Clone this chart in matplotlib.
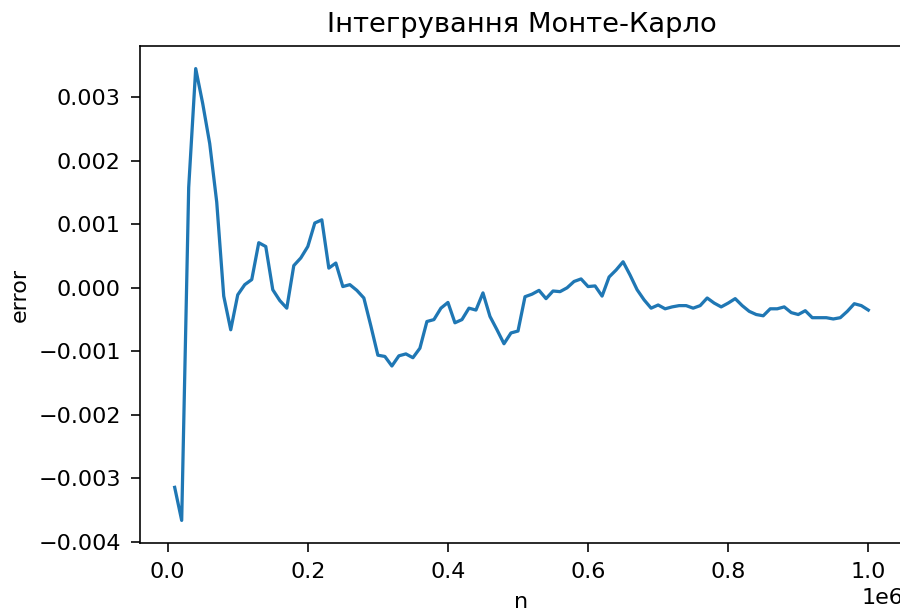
import numpy as np
import matplotlib
matplotlib.use("Agg")
import matplotlib.pyplot as plt

# Sample sizes used for the Monte Carlo estimate
n_values = np.arange(10000, 1000001, 10000)

# Integration error for each sample size
error = [
    -0.00314, -0.00366, 0.00158, 0.00345, 0.00290, 0.00227, 0.00135, -0.00013, -0.00066, -0.00011,
    0.00005, 0.00013, 0.00071, 0.00065, -0.00003, -0.00020, -0.00032, 0.00035, 0.00047, 0.00065,
    0.00102, 0.00107, 0.00031, 0.00039, 0.00002, 0.00005, -0.00004, -0.00016, -0.00060, -0.00106,
    -0.00108, -0.00123, -0.00107, -0.00104, -0.00110, -0.00095, -0.00053, -0.00050, -0.00032, -0.00023,
    -0.00055, -0.00050, -0.00032, -0.00035, -0.00008, -0.00045, -0.00066, -0.00088, -0.00071, -0.00068,
    -0.00014, -0.00010, -0.00004, -0.00017, -0.00005, -0.00006, 0.00000, 0.00010, 0.00014, 0.00002,
    0.00003, -0.00013, 0.00017, 0.00028, 0.00041, 0.00020, -0.00003, -0.00019, -0.00032, -0.00027,
    -0.00033, -0.00030, -0.00028, -0.00028, -0.00032, -0.00028, -0.00016, -0.00024, -0.00030, -0.00024,
    -0.00017, -0.00028, -0.00037, -0.00042, -0.00044, -0.00033, -0.00033, -0.00030, -0.00039, -0.00042,
    -0.00036, -0.00047, -0.00047, -0.00047, -0.00049, -0.00047, -0.00037, -0.00025, -0.00028, -0.00035,
]

dpi = 146
plt.rcParams.update({
    "font.size": 11,
    "axes.titlesize": 13.5,
    "axes.labelsize": 11,
    "xtick.labelsize": 11,
    "ytick.labelsize": 11,
    "xtick.major.size": 4.5,
    "ytick.major.size": 4.5,
    "xtick.major.pad": 5,
    "ytick.major.pad": 5,
})

fig = plt.figure(figsize=(900 / dpi, 613 / dpi), dpi=dpi)
ax = fig.add_axes([140 / 900, 70 / 613, 763 / 900, 497 / 613])

ax.plot(n_values, error, color="#1f77b4", linewidth=1.6)
ax.set_title("Інтегрування Монте-Карло", pad=7)
ax.set_xlabel("n", labelpad=5)
ax.set_ylabel("error", labelpad=4)

fig.savefig("out.png", dpi=dpi)
